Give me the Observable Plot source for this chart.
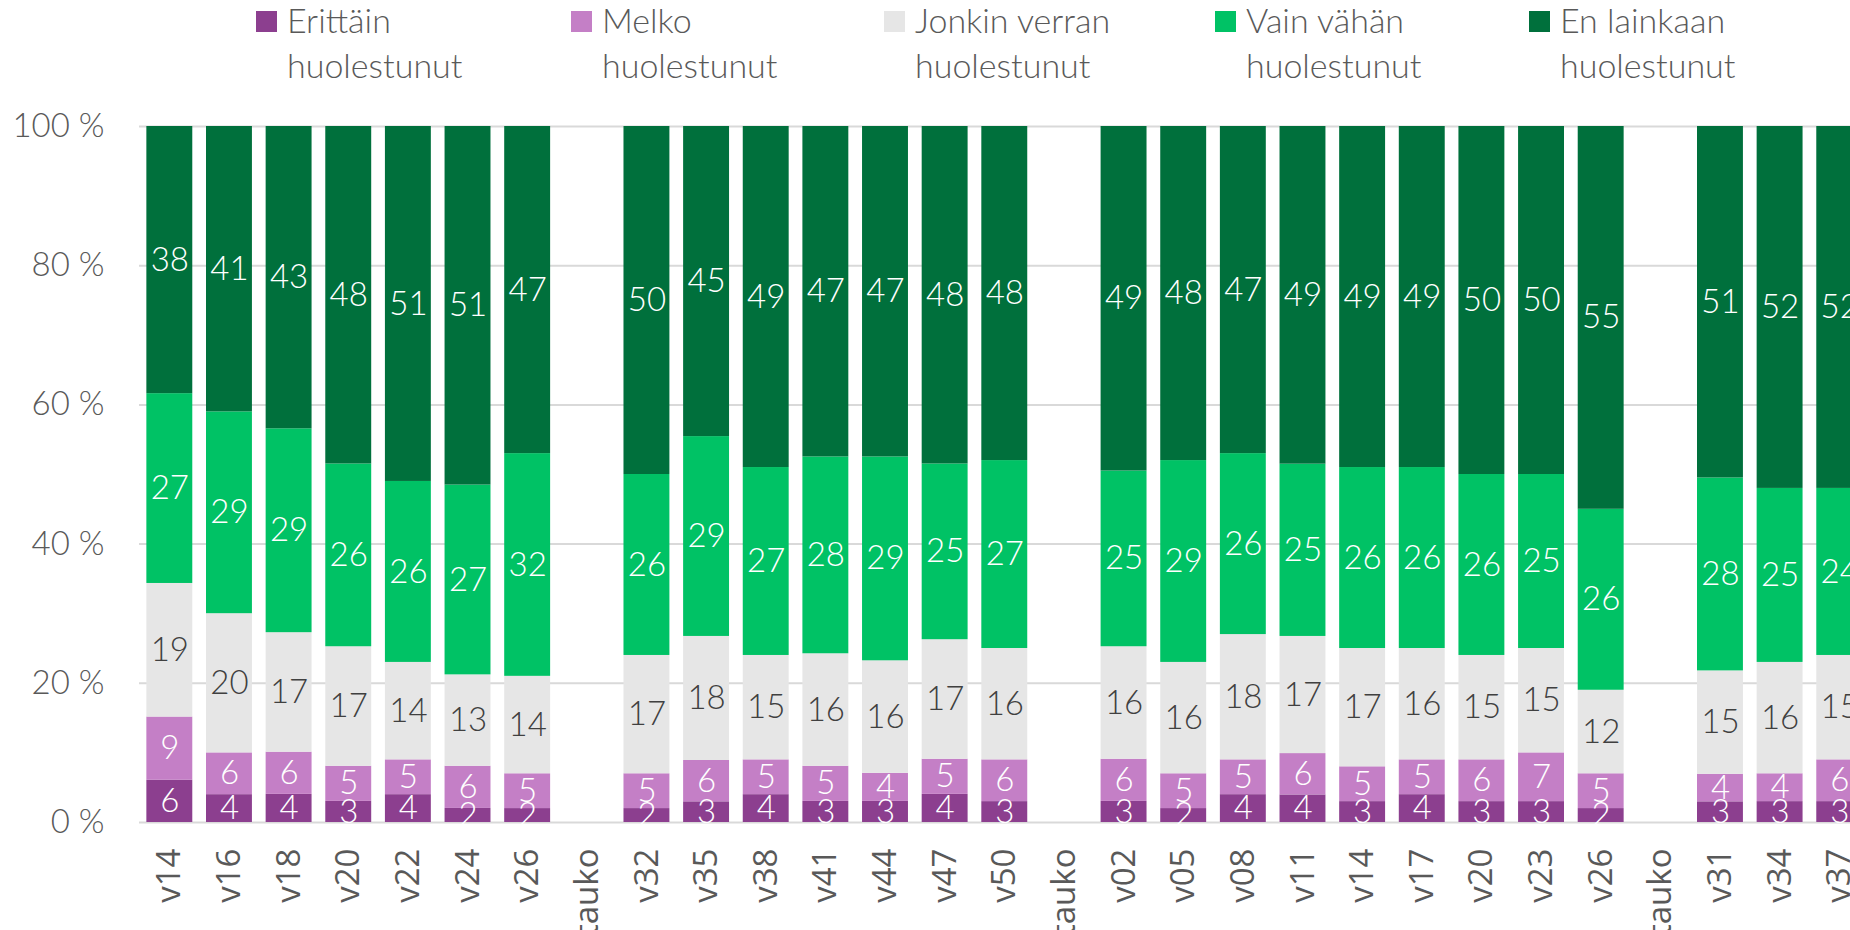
<!DOCTYPE html>
<html><head><meta charset="utf-8">
<script src="https://cdn.jsdelivr.net/npm/d3@7"></script>
<script src="https://cdn.jsdelivr.net/npm/@observablehq/plot@0.6"></script>
<style>
html,body{margin:0;padding:0;overflow:hidden;background:#fff;width:1850px;height:930px}
#legend{position:relative;height:110px;width:1850px;font-family:Lato,sans-serif;font-weight:300;font-size:34px;color:#595959}
.item{position:absolute;top:0}
.sw{position:absolute;left:0;top:11px;width:21px;height:21px}
.lab{position:absolute;left:31px;top:-3px;line-height:45px;white-space:nowrap}
</style></head><body>
<div id="legend"></div><div id="chart"></div>
<script>
// ---- data ----
const weeks = ["v14","v16","v18","v20","v22","v24","v26","tauko","v32","v35","v38","v41","v44","v47","v50","tauko","v02","v05","v08","v11","v14","v17","v20","v23","v26","tauko","v31","v34","v37"];
const categories = ["Erittäin huolestunut","Melko huolestunut","Jonkin verran huolestunut","Vain vähän huolestunut","En lainkaan huolestunut"];
const colors = ["#8c3f8f","#c47fc6","#e6e6e6","#00c265","#00703c"];
const labelColors = ["#ffffff","#ffffff","#404040","#ffffff","#ffffff"];
const erittain  = [6,4,4,3,4,2,2,null,2,3,4,3,3,4,3,null,3,2,4,4,3,4,3,3,2,null,3,3,3];
const melko     = [9,6,6,5,5,6,5,null,5,6,5,5,4,5,6,null,6,5,5,6,5,5,6,7,5,null,4,4,6];
const jonkin    = [19,20,17,17,14,13,14,null,17,18,15,16,16,17,16,null,16,16,18,17,17,16,15,15,12,null,15,16,15];
const vainVahan = [27,29,29,26,26,27,32,null,26,29,27,28,29,25,27,null,25,29,26,25,26,26,26,25,26,null,28,25,24];
const enLainkaan= [38,41,43,48,51,51,47,null,50,45,49,47,47,48,48,null,49,48,47,49,49,49,50,50,55,null,51,52,52];
const yTicks = [0,0.2,0.4,0.6,0.8,1];

const series = [erittain, melko, jonkin, vainVahan, enLainkaan];
const rows = [];
weeks.forEach((w, i) => {
  series.forEach((s, k) => {
    if (s[i] != null) rows.push({idx: i, week: w, cat: categories[k], value: s[i], color: colors[k], tcolor: labelColors[k]});
  });
});

// ---- legend ----
const legendLeft = [256, 571, 884, 1215, 1529];
const legend = document.getElementById("legend");
categories.forEach((c, k) => {
  const item = document.createElement("div");
  item.className = "item";
  item.style.left = legendLeft[k] + "px";
  const sw = document.createElement("div");
  sw.className = "sw"; sw.style.background = colors[k];
  const lab = document.createElement("div");
  lab.className = "lab";
  const cut = c.lastIndexOf(" ");
  lab.innerHTML = c.slice(0, cut) + "<br>" + c.slice(cut + 1);
  item.appendChild(sw); item.appendChild(lab);
  legend.appendChild(item);
});

// ---- chart ----
const step = 59.64, x0 = 139.5;
const chart = Plot.plot({
  width: 1850,
  height: 820,
  marginTop: 16,
  marginBottom: 108,
  marginLeft: 139,
  marginRight: 0,
  style: {fontFamily: "Lato, sans-serif", background: "#fff"},
  x: {type: "band", domain: d3.range(weeks.length), range: [x0, x0 + step * weeks.length], paddingInner: 0.23, paddingOuter: 0.115, round: false},
  y: {domain: [0, 1]},
  color: {type: "identity"},
  marks: [
    Plot.ruleY(yTicks, {stroke: "#d9d9d9", strokeWidth: 2}),
    Plot.barY(rows, Plot.stackY({offset: "normalize", x: "idx", y: "value", z: "cat", fill: "color"})),
    Plot.text(rows, Plot.stackY({offset: "normalize", x: "idx", y: "value", z: "cat", text: d => String(d.value), fill: "tcolor", fontSize: 33, fontWeight: 300, fontFamily: "Lato, sans-serif"})),
    Plot.axisY({ticks: yTicks, tickFormat: d => Math.round(d * 100) + " %", tickSize: 0, tickPadding: 35, fontSize: 33, fontWeight: 300, label: null, color: "#595959"}),
    Plot.axisX({tickFormat: i => weeks[i], tickRotate: -90, tickSize: 0, tickPadding: 26, fontSize: 33, fontFamily: "Open Sans, sans-serif", label: null, color: "#595959"})
  ]
});
document.getElementById("chart").appendChild(chart);
</script>
</body></html>
